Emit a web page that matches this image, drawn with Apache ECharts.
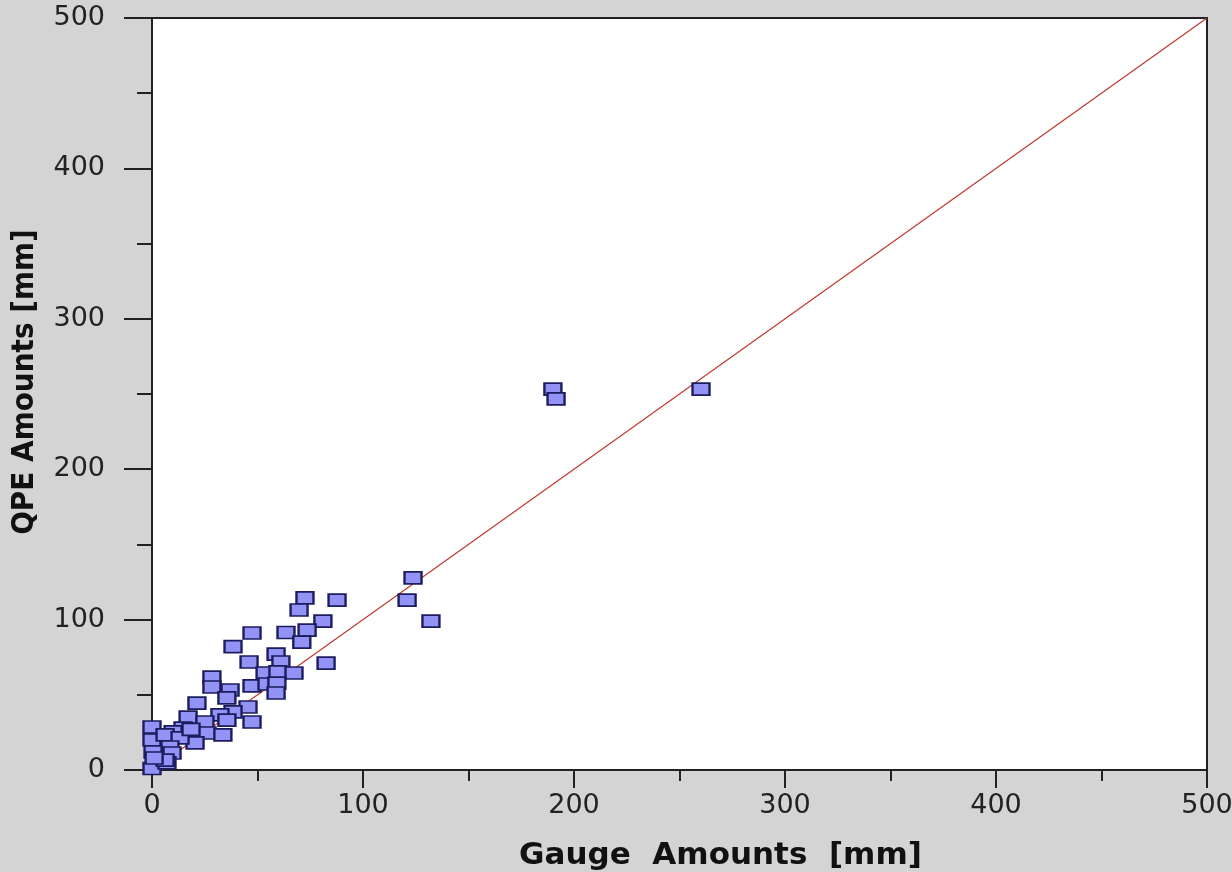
<!DOCTYPE html>
<html>
<head>
<meta charset="utf-8">
<script src="https://cdn.jsdelivr.net/npm/echarts@6/dist/echarts.min.js"></script>
<style>
    html, body { margin: 0; padding: 0; background: #d4d4d4; }
    #main { width: 1232px; height: 872px; }
</style>
</head>
<body>
<div id="main"></div>
<script>
// gauge vs QPE amounts [mm]
const gaugeValues = [
    72.5, 87.7, 69.7, 81, 73.5, 63.5, 47.4, 71, 38.4, 58.8,
    46, 82.5, 61.1, 53.6, 59.7, 67.3, 28.4, 28.4, 37, 47.4,
    54.5, 59.2, 58.8, 35.5, 45.5, 21.3, 38.4, 32.2, 17.1, 25.1,
    35.5, 47.4, 14.7, 10, 26.1, 33.6, 20.4, 0, 0, 6.2,
    13.3, 8.5, 0.5, 9.5, 2.4, 0, 7.1, 6.2, 18.5, 1,
    123.7, 120.9, 132.2, 190, 191.5, 260.2
]
const qpeValues = [
    114.4, 113, 106.4, 99, 93, 91.4, 91.1, 85, 82, 77,
    71.8, 71.1, 71.8, 64.5, 65.2, 64.5, 61.8, 55.2, 53.2, 55.9,
    57.2, 57.8, 51.2, 47.9, 41.9, 44.5, 38.6, 36.6, 35.2, 31.9,
    33.2, 31.9, 27.9, 25.3, 24.6, 23.3, 18, 28.6, 20, 23.3,
    21.3, 15.3, 12, 11.3, 4.7, 1, 4.7, 6.6, 27, 8,
    127.7, 113, 99, 253.3, 246.7, 253.3
]
// 1:1 reference line
const lineX = [0, 500]
const lineY = [0, 500]

const axisLabels = ['0', '100', '200', '300', '400', '500']

let points = []
for (let i = 0; i < gaugeValues.length; i++) {
    points.push([gaugeValues[i], qpeValues[i]])
}

const myChart = echarts.init(document.getElementById('main'))

const labelFont = {
    fontFamily: 'DejaVu Sans',
    fontSize: 27,
    color: '#222'
}

myChart.setOption({
    backgroundColor: '#d4d4d4',
    animation: false,
    grid: {
        left: 152,
        right: 25,
        top: 18,
        bottom: 102,
        outerBoundsMode: 'none',
        show: true,
        backgroundColor: '#ffffff',
        borderColor: '#222',
        borderWidth: 2
    },
    xAxis: {
        type: 'value',
        min: 0,
        max: 500,
        interval: 100,
        name: 'Gauge  Amounts  [mm]',
        nameLocation: 'middle',
        nameGap: 70,
        nameTextStyle: {
            fontFamily: 'DejaVu Sans',
            fontWeight: 'bold',
            fontSize: 31,
            color: '#111',
            padding: [0, 0, 0, 82]
        },
        axisLine: { lineStyle: { color: '#222', width: 2 } },
        axisTick: { show: true, length: 18, lineStyle: { color: '#222', width: 2 } },
        minorTick: { show: true, splitNumber: 2, length: 11, lineStyle: { color: '#222', width: 2 } },
        splitLine: { show: false },
        axisLabel: Object.assign({
            margin: 22,
            formatter: function (v) { return axisLabels[Math.round(v / 100)] }
        }, labelFont)
    },
    yAxis: {
        type: 'value',
        min: 0,
        max: 500,
        interval: 100,
        name: 'QPE Amounts [mm]',
        nameLocation: 'middle',
        nameGap: 112,
        nameTextStyle: {
            fontFamily: "'DejaVu Sans Condensed', sans-serif",
            fontWeight: 'bold',
            fontSize: 31,
            color: '#111',
            padding: [0, 0, 0, 24]
        },
        axisLine: { lineStyle: { color: '#222', width: 2 } },
        axisTick: { show: true, length: 28, lineStyle: { color: '#222', width: 2 } },
        minorTick: { show: true, splitNumber: 2, length: 15, lineStyle: { color: '#222', width: 2 } },
        splitLine: { show: false },
        axisLabel: Object.assign({
            margin: 47,
            formatter: function (v) { return axisLabels[Math.round(v / 100)] }
        }, labelFont)
    },
    series: [
        {
            type: 'line',
            data: [[lineX[0], lineY[0]], [lineX[1], lineY[1]]],
            symbol: 'none',
            z: 1,
            lineStyle: { color: '#c0392b', width: 1.2 }
        },
        {
            type: 'scatter',
            data: points,
            symbol: 'rect',
            symbolSize: [17, 12],
            z: 2,
            itemStyle: {
                color: '#9393f5',
                borderColor: '#1c1c5e',
                borderWidth: 2,
                opacity: 1
            }
        }
    ]
})
</script>
</body>
</html>
